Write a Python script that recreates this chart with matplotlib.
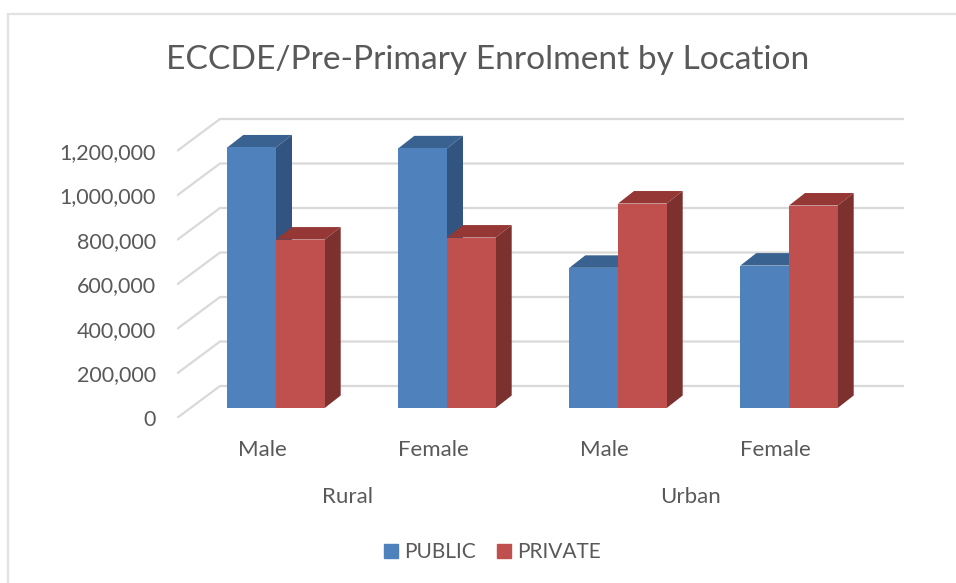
import matplotlib
matplotlib.use('Agg')
import matplotlib.pyplot as plt
from matplotlib.patches import Polygon, Rectangle

plt.rcParams['font.family'] = ['Lato', 'DejaVu Sans']

# values
locations = ['Rural', 'Urban']
sexes = ['Male', 'Female', 'Male', 'Female']
public = [1171000, 1167000, 630000, 640000]
private = [757000, 766000, 919000, 910000]
yticks = [0, 200000, 400000, 600000, 800000, 1000000, 1200000]

W, H = 956, 583
TEXT = '#595959'
GRID = '#d9d9d9'
BLUE = ('#4f81bd', '#3a6291', '#325480')
RED = ('#c0504d', '#953735', '#7d312f')

# pixel scale of the chart: one group = 171 px, 200,000 = 44.5 px
PX_X = 1 / 171
PX_Y = 200000 / 44.5
BAR_W = 48.7 * PX_X
DEPTH_X = 16 * PX_X
DEPTH_Y = 12.5 * PX_Y
WALL_DX = 43 * PX_X
FLOOR_FRONT = -10 * PX_Y   # gridline front end sits below the bar fronts
WALL_BACK = 22 * PX_Y

fig = plt.figure(figsize=(W / 100, H / 100), dpi=100)
fig.add_artist(Rectangle((8 / W, -0.02), 960 / W, 1 - 14 / H + 0.02, transform=fig.transFigure,
                         fill=False, edgecolor='#e2e2e2', linewidth=1.6))

# axes from the left end of the floor to the right end of the back wall
left, right, top, bottom = 177, 904, 100, 418
ax = fig.add_axes([left / W, 1 - bottom / H, (right - left) / W, (bottom - top) / H])
ax.patch.set_visible(False)
x0 = -(276 - left) * PX_X
ax.set_xlim(x0, x0 + (right - left) * PX_X)
ax.set_ylim(FLOOR_FRONT, FLOOR_FRONT + (bottom - top) * PX_Y)
for s in ax.spines.values():
    s.set_visible(False)

# gridlines: slanted bit on the side wall + flat bit on the back wall
for v in yticks:
    ax.plot([x0, x0 + WALL_DX, x0 + (right - left) * PX_X],
            [v + FLOOR_FRONT, v + WALL_BACK, v + WALL_BACK],
            color=GRID, lw=1.6, solid_capstyle='butt', zorder=1)


def box(x, val, cols):
    ax.add_patch(Rectangle((x, 0), BAR_W, val, facecolor=cols[0], edgecolor='none', zorder=3))
    ax.add_patch(Polygon([(x, val), (x + BAR_W, val), (x + BAR_W + DEPTH_X, val + DEPTH_Y),
                          (x + DEPTH_X, val + DEPTH_Y)], facecolor=cols[1], edgecolor='none', zorder=2.5))
    ax.add_patch(Polygon([(x + BAR_W, 0), (x + BAR_W + DEPTH_X, DEPTH_Y),
                          (x + BAR_W + DEPTH_X, val + DEPTH_Y), (x + BAR_W, val)],
                         facecolor=cols[2], edgecolor='none', zorder=2.5))


for i in range(len(sexes)):
    box(i - BAR_W, public[i], BLUE)
    # private bar goes over the public side face
    box(i, private[i], RED)
    ax.patches[-3].set_zorder(3.2)
    ax.patches[-2].set_zorder(3.1)
    ax.patches[-1].set_zorder(3.1)

ax.set_yticks([v + FLOOR_FRONT for v in yticks])
ax.set_yticklabels([f'{v:,}' for v in yticks])
ax.set_xticks([i - 13.5 * PX_X for i in range(len(sexes))])
ax.set_xticklabels(sexes)
ax.tick_params(axis='y', length=0, pad=15, labelsize=15.5, labelcolor=TEXT)
ax.tick_params(axis='x', length=0, pad=15.7, labelsize=16, labelcolor=TEXT)

# outer category level
for name, mid in zip(locations, [0.5, 2.5]):
    ax.annotate(name, (mid - 13.5 * PX_X, 0), xycoords=('data', 'axes fraction'), xytext=(0, -69 * 0.72),
                textcoords='offset points', ha='center', va='top', fontsize=16, color=TEXT)

fig.text(488 / W, 1 - 60 / H, 'ECCDE/Pre-Primary Enrolment by Location', ha='center', va='center',
         fontsize=24.1, color=TEXT)

handles = [Rectangle((0, 0), 1, 1, color=BLUE[0]), Rectangle((0, 0), 1, 1, color=RED[0])]
fig.legend(handles, ['PUBLIC', 'PRIVATE'], loc='center', bbox_to_anchor=(492.5 / W, 1 - 552 / H), ncol=2,
           frameon=False, fontsize=15, labelcolor=TEXT, handlelength=0.67, handleheight=0.67,
           handletextpad=0.3, columnspacing=1.0)

fig.savefig('out.png', dpi=100)
